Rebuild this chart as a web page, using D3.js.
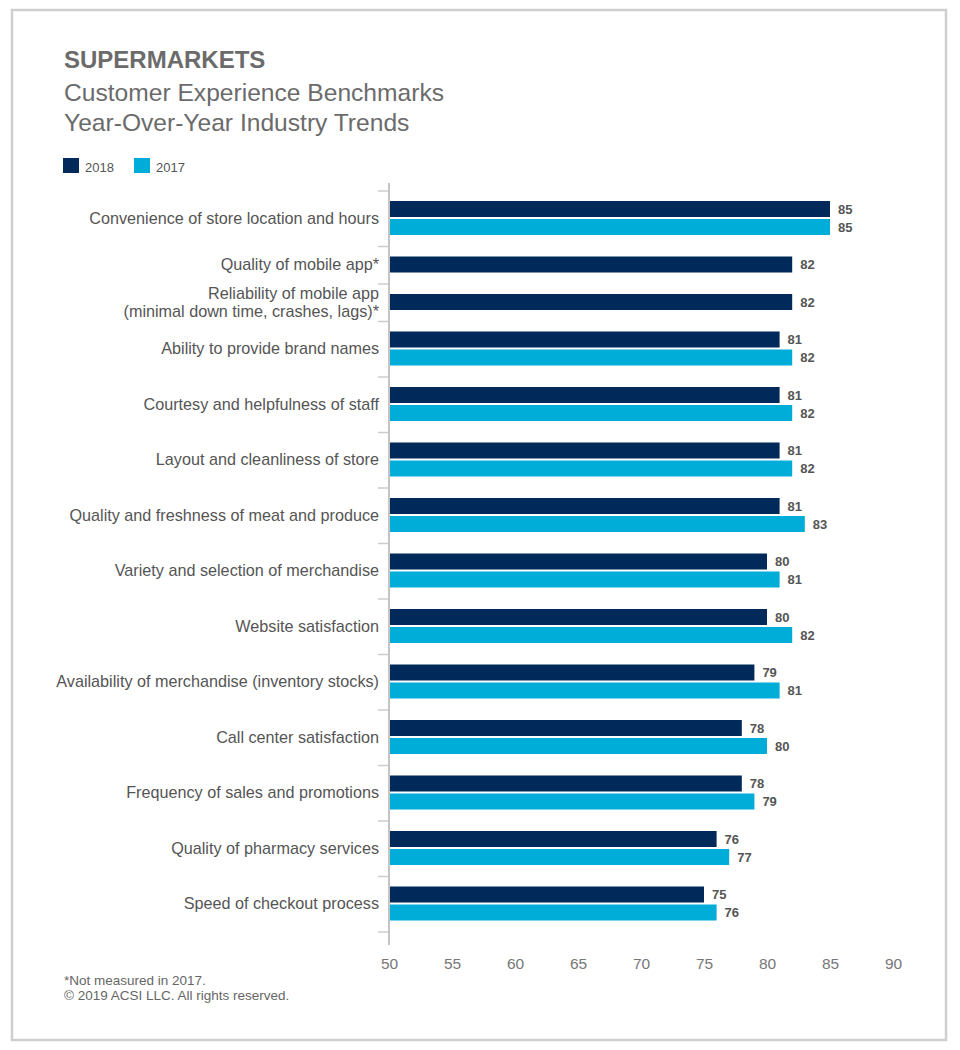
<!DOCTYPE html>
<html lang="en">
<head>
  <meta charset="UTF-8">
  <title>Supermarkets - Customer Experience Benchmarks</title>
  <style>
    body { margin: 0; background: #fff; }
    svg text { font-family: "Helvetica Neue", Helvetica, Arial, "Liberation Sans", sans-serif; }
  </style>
</head>
<body>
  <script src="https://cdn.jsdelivr.net/npm/d3@7"></script>
  <script>
  var categories = [
    ["Convenience of store location and hours"],
    ["Quality of mobile app*"],
    ["Reliability of mobile app", "(minimal down time, crashes, lags)*"],
    ["Ability to provide brand names"],
    ["Courtesy and helpfulness of staff"],
    ["Layout and cleanliness of store"],
    ["Quality and freshness of meat and produce"],
    ["Variety and selection of merchandise"],
    ["Website satisfaction"],
    ["Availability of merchandise (inventory stocks)"],
    ["Call center satisfaction"],
    ["Frequency of sales and promotions"],
    ["Quality of pharmacy services"],
    ["Speed of checkout process"]
  ];
  var values2018 = [85, 82, 82, 81, 81, 81, 81, 80, 80, 79, 78, 78, 76, 75];
  var values2017 = [85, null, null, 82, 82, 82, 83, 81, 82, 81, 80, 79, 77, 76];
  var seriesNames = ["2018", "2017"];
  var seriesColors = ["#012a5b", "#00acd8"];
  var xTicks = [50, 55, 60, 65, 70, 75, 80, 85, 90];

  var w = 960, h = 1050;
  var svg = d3.select('body').append('svg').attr('width', w).attr('height', h);

  // frame
  svg.append('rect')
    .attr('x', 12).attr('y', 10).attr('width', 934).attr('height', 1030)
    .attr('fill', 'none').attr('stroke', '#cfcfcf').attr('stroke-width', 2.5);

  // titles
  var grey = '#6b6b6b';
  svg.append('text').attr('x', 64).attr('y', 68)
    .attr('font-size', 24).attr('font-weight', 'bold').attr('fill', grey)
    .text('SUPERMARKETS');
  svg.append('text').attr('x', 64).attr('y', 101)
    .attr('font-size', 24.6).attr('fill', grey)
    .text('Customer Experience Benchmarks');
  svg.append('text').attr('x', 64).attr('y', 131)
    .attr('font-size', 24.6).attr('fill', grey)
    .text('Year-Over-Year Industry Trends');

  // legend
  var legend = svg.selectAll('g.legend')
    .data(seriesNames)
    .enter()
    .append('g')
    .attr('class', 'legend')
    .attr('transform', function (d, i) { return 'translate(' + (63 + i * 71) + ',158)'; });
  legend.append('rect')
    .attr('width', 16).attr('height', 15)
    .attr('fill', function (d, i) { return seriesColors[i]; });
  legend.append('text')
    .attr('x', 22).attr('y', 14)
    .attr('font-size', 13).attr('fill', '#555')
    .text(function (d) { return d; });

  // x scale
  var x = d3.scaleLinear().domain([50, 90]).range([389, 893]);

  // group layout: rows with one bar are shorter than rows with two
  var barH = 16, gap = 2, padTop = 10, padBottom = 11.5;
  var rows = [];
  var yCursor = 191;
  categories.forEach(function (c, i) {
    var vals = [];
    if (values2018[i] != null) vals.push({ s: 0, v: values2018[i] });
    if (values2017[i] != null) vals.push({ s: 1, v: values2017[i] });
    var inner = vals.length * barH + (vals.length - 1) * gap;
    rows.push({ label: c, top: yCursor, inner: inner, vals: vals,
                h: padTop + inner + padBottom });
    yCursor += padTop + inner + padBottom;
  });
  var chartBottom = yCursor;

  // boundary ticks on the category axis
  var bounds = [rows[0].top].concat(rows.map(function (r) { return r.top + r.h; }));
  svg.selectAll('line.ytick')
    .data(bounds)
    .enter()
    .append('line')
    .attr('class', 'ytick')
    .attr('x1', 378).attr('x2', 389)
    .attr('y1', function (d) { return d; })
    .attr('y2', function (d) { return d; })
    .attr('stroke', '#cccccc').attr('stroke-width', 1.5);

  var groups = svg.selectAll('g.row')
    .data(rows)
    .enter()
    .append('g')
    .attr('class', 'row')
    .attr('transform', function (d) { return 'translate(0,' + (d.top + padTop) + ')'; });

  groups.each(function (r) {
    var g = d3.select(this);
    var yIn = d3.scaleBand()
      .domain(r.vals.map(function (d) { return d.s; }))
      .range([0, r.inner])
      .paddingInner(r.vals.length > 1 ? gap / (barH + gap) : 0);

    g.selectAll('rect')
      .data(r.vals)
      .enter()
      .append('rect')
      .attr('x', x(50))
      .attr('y', function (d) { return yIn(d.s); })
      .attr('width', function (d) { return x(d.v) - x(50); })
      .attr('height', yIn.bandwidth())
      .attr('fill', function (d) { return seriesColors[d.s]; });

    g.selectAll('text.val')
      .data(r.vals)
      .enter()
      .append('text')
      .attr('class', 'val')
      .attr('x', function (d) { return x(d.v) + 8; })
      .attr('y', function (d) { return yIn(d.s) + yIn.bandwidth() / 2 + 4.5; })
      .attr('font-size', 13).attr('font-weight', 'bold').attr('fill', '#555')
      .text(function (d) { return d.v; });

    var lbl = g.append('text')
      .attr('text-anchor', 'end')
      .attr('font-size', 16.2).attr('fill', '#555');
    var n = r.label.length;
    r.label.forEach(function (line, k) {
      lbl.append('tspan')
        .attr('x', 379)
        .attr('y', r.inner / 2 + 5.5 + (k - (n - 1) / 2) * 18)
        .text(line);
    });
  });

  // vertical axis line
  svg.append('line')
    .attr('x1', 389).attr('x2', 389)
    .attr('y1', 183).attr('y2', chartBottom + 13)
    .attr('stroke', '#c4c4c4').attr('stroke-width', 2);

  // x axis
  var xAxis = svg.append('g')
    .attr('transform', 'translate(0,' + (chartBottom + 16) + ')')
    .call(d3.axisBottom(x).tickValues(xTicks).tickSize(0).tickPadding(10));
  xAxis.select('.domain').remove();
  xAxis.selectAll('text')
    .attr('font-size', 15.5).attr('fill', '#777')
    .style('font-family', '"Helvetica Neue", Helvetica, Arial, "Liberation Sans", sans-serif');

  // footer
  svg.append('text').attr('x', 64).attr('y', 985)
    .attr('font-size', 13.5).attr('fill', '#666')
    .text('*Not measured in 2017.');
  svg.append('text').attr('x', 64).attr('y', 1000)
    .attr('font-size', 13.5).attr('fill', '#666')
    .text('\u00A9 2019 ACSI LLC. All rights reserved.');
  </script>
</body>
</html>
